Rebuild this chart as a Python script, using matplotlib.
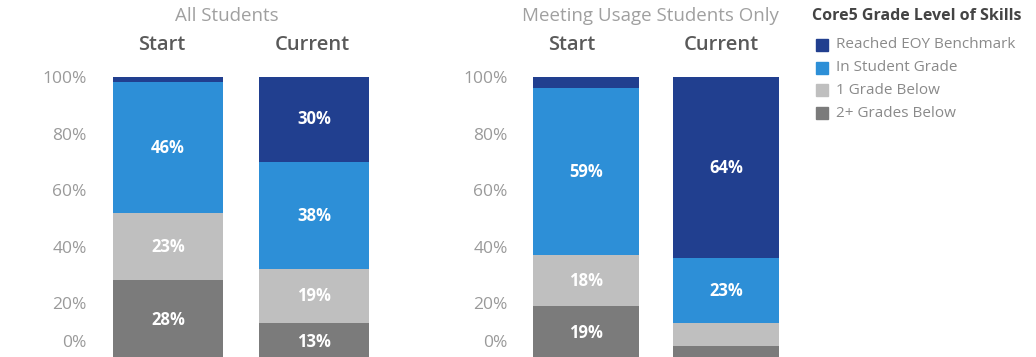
import matplotlib.pyplot as plt

plt.rcParams['font.family'] = ['Open Sans', 'DejaVu Sans']

# Data (percent of students), bottom to top
periods = ["Start", "Current"]
levels = ["2+ Grades Below", "1 Grade Below", "In Student Grade", "Reached EOY Benchmark"]
colors = ["#7b7b7b", "#bfbfbf", "#2d8fd7", "#213f8f"]

# All Students
all_below2 = [28.4, 13]
all_below1 = [23.4, 19]
all_ingrade = [46.4, 38]
all_eoy = [1.8, 30]

# Meeting Usage Students Only
use_below2 = [19, 5]
use_below1 = [18, 8]
use_ingrade = [59, 23]
use_eoy = [4, 64]

legend_title = "Core5 Grade Level of Skills"
legend_labels = ["Reached EOY Benchmark", "In Student Grade", "1 Grade Below", "2+ Grades Below"]

fig = plt.figure(figsize=(10.36, 3.57), dpi=100)
W, H = 1036, 357


def panel(left_px, unit_px, title, series, head_x, title_x):
    ax = fig.add_axes([left_px / W, (357 - 360) / H, 2 * unit_px / W, 283 / H])
    x = range(len(periods))
    bottom = [0, 0]
    for vals, c in zip(series, colors):
        bars = ax.bar(x, vals, width=0.76, bottom=bottom, color=c, linewidth=0)
        for b, v, bt in zip(bars, vals, bottom):
            if v >= 10:
                ax.text(b.get_x() + b.get_width() / 2, bt + v / 2, f"{v:.0f}%",
                        ha='center', va='center', color='white', fontsize=12, fontweight='bold')
        bottom = [a + b for a, b in zip(bottom, vals)]
    ax.set_xlim(-0.5, 1.5)
    ax.set_ylim(0, 100)
    ticks = [0, 20, 40, 60, 80, 100]
    ax.set_yticks(ticks)
    # 0% label sits at the cropped bottom edge, drawn separately so it stays visible
    ax.set_yticklabels([""] + [f"{t}%" for t in ticks[1:]], color='#9a9a9a', fontsize=12.5)
    ax.annotate("0%", xy=(0, 0), xycoords='axes fraction', xytext=(-5.8, 12),
                textcoords='offset points', ha='right', va='center', color='#9a9a9a', fontsize=12.5)
    ax.tick_params(axis='y', length=0, pad=6)
    ax.set_xticks([])
    for s in ax.spines.values():
        s.set_visible(False)
    for hx, p in zip(head_x, periods):
        ax.text(hx, 111.3, p, ha='center', va='center', fontsize=14.5, fontweight='semibold', color='#595959')
    ax.text(title_x, 121.5, title, ha='center', va='center', fontsize=13.5, color='#a0a0a0', clip_on=False)
    return ax


panel(95, 146, "All Students", [all_below2, all_below1, all_ingrade, all_eoy], [-0.04, 0.99], 0.40)
panel(516, 140, "Meeting Usage Students Only", [use_below2, use_below1, use_ingrade, use_eoy], [-0.1, 0.97], 0.46)

# legend drawn manually
fig.text(812 / W, 1 - 16 / H, legend_title, fontsize=11.5, fontweight='bold', color='#444444', va='center')
leg_colors = colors[::-1]
for i, (lab, c) in enumerate(zip(legend_labels, leg_colors)):
    yc = 1 - (45 + i * 22.7) / H
    fig.patches.append(plt.Rectangle((816 / W, yc - 6 / H), 12 / W, 12 / H,
                                     transform=fig.transFigure, color=c, figure=fig))
    fig.text(836 / W, yc, lab, fontsize=11, color='#8a8a8a', va='center')

plt.savefig("out.png", dpi=100)
